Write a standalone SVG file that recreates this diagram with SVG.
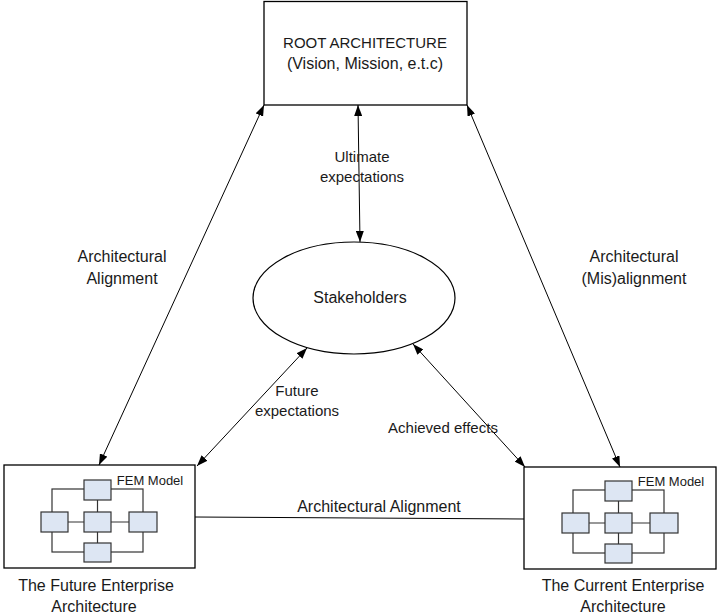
<svg xmlns="http://www.w3.org/2000/svg" width="717" height="615" viewBox="0 0 717 615">
<style>
text{font-family:"Liberation Sans",Arial,sans-serif;fill:#1a1a1a;text-anchor:middle}
.box{fill:#fff;stroke:#000;stroke-width:1.3}
.conn{stroke:#000;stroke-width:1;fill:none}
.fb{fill:#dde6f3;stroke:#333;stroke-width:1.2}
.fl{stroke:#333;stroke-width:1.2;fill:none}
.lbl{font-size:15px}
.big{font-size:16px}
</style>
<defs>
<marker id="ah" viewBox="0 0 11 8" refX="11" refY="4" markerWidth="11" markerHeight="8" markerUnits="userSpaceOnUse" orient="auto-start-reverse">
<path d="M0,0 L11,4 L0,8 z" fill="#000"/>
</marker>
<g id="fem">
<rect class="fl" x="52" y="489" width="91" height="63"/>
<line class="fl" x1="97.5" y1="500" x2="97.5" y2="543"/>
<line class="fl" x1="68" y1="522" x2="129" y2="522"/>
<rect class="fb" x="84" y="480" width="27" height="20"/>
<rect class="fb" x="84" y="512" width="27" height="20"/>
<rect class="fb" x="41" y="512" width="27" height="20"/>
<rect class="fb" x="129" y="512" width="28" height="20"/>
<rect class="fb" x="84" y="543" width="27" height="19"/>
<text x="150" y="485" style="font-size:13px">FEM Model</text>
</g>
</defs>
<g id="connectors">
<line class="conn" x1="264" y1="105" x2="99" y2="465" marker-start="url(#ah)" marker-end="url(#ah)"/>
<line class="conn" x1="467" y1="105" x2="620" y2="467" marker-start="url(#ah)" marker-end="url(#ah)"/>
<line class="conn" x1="358" y1="105" x2="360" y2="242" marker-start="url(#ah)" marker-end="url(#ah)"/>
<line class="conn" x1="307" y1="348" x2="197" y2="466" marker-start="url(#ah)" marker-end="url(#ah)"/>
<line class="conn" x1="413" y1="344" x2="525" y2="467" marker-start="url(#ah)" marker-end="url(#ah)"/>
<line class="conn" x1="195" y1="517" x2="524" y2="519"/>
<text class="lbl" x="362" y="162">Ultimate</text>
<text class="lbl" x="362" y="182">expectations</text>
<text class="big" x="122" y="262">Architectural</text>
<text class="big" x="122" y="284">Alignment</text>
<text class="big" x="634" y="262">Architectural</text>
<text class="big" x="634" y="284">(Mis)alignment</text>
<text class="lbl" x="297" y="396">Future</text>
<text class="lbl" x="297" y="416">expectations</text>
<text class="lbl" x="443" y="433">Achieved effects</text>
<text class="big" x="379" y="512">Architectural Alignment</text>
</g>
<g id="root">
<rect class="box" x="264" y="1.5" width="203" height="103.5"/>
<text x="365" y="48" style="font-size:15px">ROOT ARCHITECTURE</text>
<text class="big" x="365" y="69">(Vision, Mission, e.t.c)</text>
</g>
<g id="stakeholders">
<ellipse cx="354" cy="298" rx="101" ry="56" fill="#fff" stroke="#000" stroke-width="1.2"/>
<text class="big" x="360" y="303">Stakeholders</text>
</g>
<g id="future">
<rect class="box" x="4" y="465" width="191" height="103"/>
<use href="#fem"/>
<text class="big" x="96" y="591">The Future Enterprise</text>
<text class="big" x="94" y="612">Architecture</text>
</g>
<g id="current">
<rect class="box" x="524" y="467" width="192" height="102"/>
<use href="#fem" transform="translate(521,1)"/>
<text class="big" x="623" y="591">The Current Enterprise</text>
<text class="big" x="623" y="612">Architecture</text>
</g>
</svg>
